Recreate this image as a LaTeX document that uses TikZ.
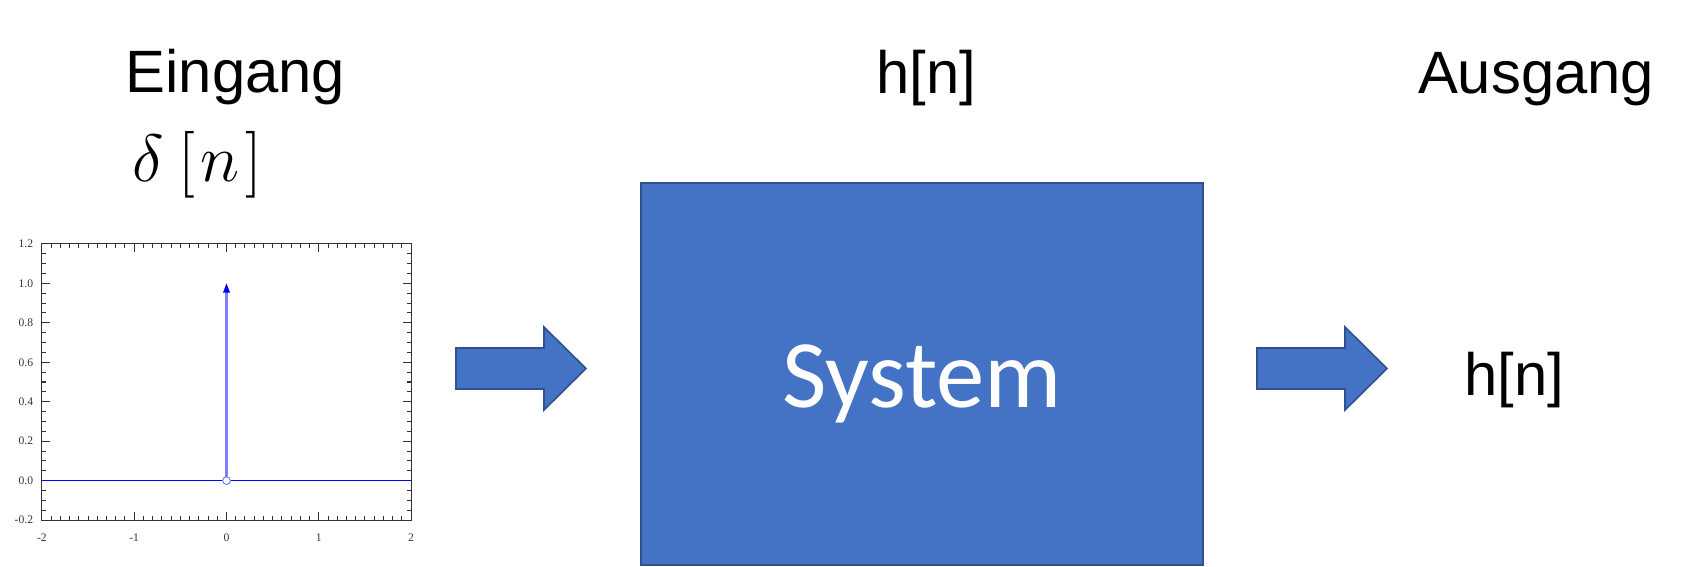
\RequirePackage{fix-cm}
\documentclass[tikz,border=0pt]{standalone}
\usepackage[no-math]{fontspec}
\setmainfont{Liberation Sans}
\newfontfamily\calibrifont{Carlito}
\newfontfamily\plotfont{Liberation Serif}
\usetikzlibrary{arrows.meta, positioning, calc}
\definecolor{sysblue}{HTML}{4472C4}
\definecolor{sysedge}{HTML}{2F528F}
\definecolor{stemblue}{HTML}{8080FF}
\definecolor{axisgray}{HTML}{333333}

\tikzset{
  headtext/.style={font=\fontsize{17}{20}\selectfont, anchor=base, inner sep=0pt},
  sysbox/.style={draw=sysedge, line width=0.45pt, fill=sysblue, text=white,
    font=\calibrifont\fontsize{27.5}{30}\selectfont, inner sep=0pt,
    text height=18.8pt, text depth=0pt},
  blockarrow/.style={draw=sysedge, line width=0.45pt, fill=sysblue, line join=miter},
  ticktext/.style={font=\plotfont\fontsize{3.3}{4}\selectfont, text=axisgray, inner sep=0pt}
}

\begin{document}
\begin{tikzpicture}[x=0.01cm, y=-0.01cm]
\useasboundingbox (0,0) rectangle (1692,566);

% labels
\node[headtext] (eingang) at (235.5,92) {Eingang};
\node[headtext] (hntop) at (926,93) {h[n]};
\node[headtext] (ausgang) at (1536,93) {Ausgang};
\node[headtext, font=\fontsize{19}{22}\selectfont] (delta) at (197,181)
  {$\delta\:[\mkern1.5mu n\mkern1.5mu]$};
\node[headtext] (hnout) at (1514,395) {h[n]};

% system block
\node[sysbox, minimum width=5.62cm, minimum height=3.82cm] (system) at (922,374) {System};

% block arrows
\draw[blockarrow] (456,348) -- (544,348) -- (544,327) -- (586,368.5)
  -- (544,410) -- (544,389) -- (456,389) -- cycle;
\draw[blockarrow] (1257,348) -- (1345,348) -- (1345,327) -- (1387,368.5)
  -- (1345,410) -- (1345,389) -- (1257,389) -- cycle;

% impulse plot
\begin{scope}[shift={(226.5,480.6)}, x=0.9225cm, y=1.971cm]
  \draw[axisgray, line width=0.3pt] (-2,-0.2) rectangle (2,1.2);
  \foreach \i in {0,...,40} {
    \pgfmathsetmacro\u{-2+\i/10}
    \pgfmathsetmacro\tl{mod(\i,10)==0 ? 2.3 : 1.1}
    \draw[axisgray, line width=0.3pt] (\u,-0.2) -- ++(0,\tl pt);
    \draw[axisgray, line width=0.3pt] (\u,1.2) -- ++(0,-\tl pt);
  }
  \foreach \i in {0,...,28} {
    \pgfmathsetmacro\v{-0.2+\i*0.05}
    \pgfmathsetmacro\tl{mod(\i,4)==0 ? 2.3 : 1.1}
    \draw[axisgray, line width=0.3pt] (-2,\v) -- ++(\tl pt,0);
    \draw[axisgray, line width=0.3pt] (2,\v) -- ++(-\tl pt,0);
  }
  \foreach \v/\t in {-0.2/-0.2, 0/0.0, 0.2/0.2, 0.4/0.4, 0.6/0.6, 0.8/0.8, 1/1.0, 1.2/1.2}
    \node[ticktext, anchor=east] at ([xshift=-2.3pt]-2,\v) {\t};
  \foreach \u in {-2,-1,0,1,2}
    \node[ticktext] at ([yshift=-5.1pt]\u,-0.2) {\u};

  \draw[blue, line width=0.4pt] (-2,0) -- (2,0);
  \draw[stemblue, line width=0.7pt] (0,0) -- (0,0.97);
  \fill[blue] (0,1) -- ++(-1pt,-2.6pt) -- ++(2pt,0) -- cycle;
  \draw[stemblue, line width=0.3pt, fill=white] (0,0) circle (1.1pt);
\end{scope}
\end{tikzpicture}
\end{document}
